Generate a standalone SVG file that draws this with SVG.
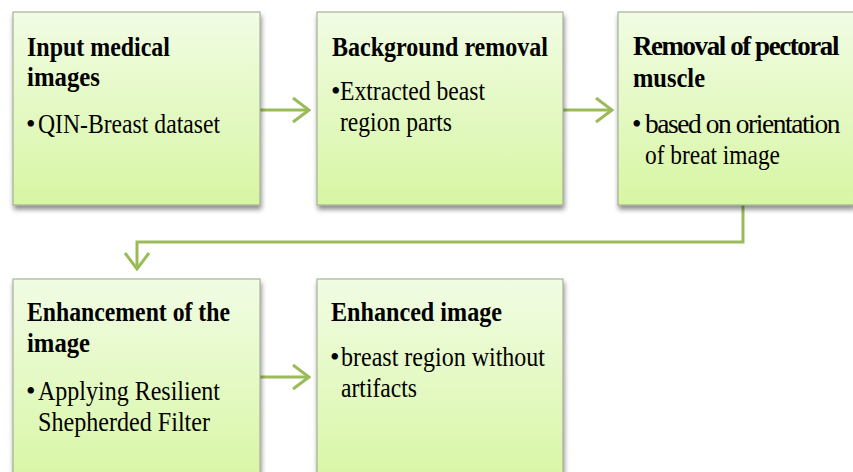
<svg xmlns="http://www.w3.org/2000/svg" width="853" height="472" viewBox="0 0 853 472">
<defs>
<linearGradient id="g" x1="0" y1="0" x2="0" y2="1">
<stop offset="0" stop-color="#f1fce4"/>
<stop offset="1" stop-color="#d7f6a3"/>
</linearGradient>
<filter id="sh" x="-10%" y="-10%" width="130%" height="130%">
<feDropShadow dx="1" dy="4" stdDeviation="2.5" flood-color="#000" flood-opacity="0.45"/>
</filter>
<marker id="ah" viewBox="0 0 20 28" refX="18" refY="14" markerWidth="20" markerHeight="28" markerUnits="userSpaceOnUse" orient="auto">
<path d="M2,2 L18,14 L2,26" fill="none" stroke="#9bbb59" stroke-width="3"/>
</marker>
</defs>
<style>
.box{fill:url(#g);stroke:#9aa48a;stroke-width:1;filter:url(#sh)}
.t{font-family:"Liberation Serif","Times New Roman",serif;font-size:27px;font-weight:bold;fill:#000}
.b{font-family:"Liberation Serif","Times New Roman",serif;font-size:27px;fill:#000}
.n{letter-spacing:-1.4px}
.c{fill:none;stroke:#9bbb59;stroke-width:3}
</style>
<rect width="853" height="472" fill="#fff"/>
<g id="connectors">
<path class="c" d="M260,110 H309" marker-end="url(#ah)"/>
<path class="c" d="M563,110 H612" marker-end="url(#ah)"/>
<path class="c" d="M743,205 V242 H137 V269" marker-end="url(#ah)"/>
<path class="c" d="M260,377 H309" marker-end="url(#ah)"/>
</g>
<g id="node1">
<rect class="box" x="13" y="12" width="247" height="193"/>
<text class="t" x="27" y="56" textLength="143" lengthAdjust="spacingAndGlyphs">Input medical</text>
<text class="t" x="27" y="86" textLength="73" lengthAdjust="spacingAndGlyphs">images</text>
<text class="b" x="26" y="133">•</text>
<text class="b" x="38" y="133" textLength="182" lengthAdjust="spacingAndGlyphs">QIN-Breast dataset</text>
</g>
<g id="node2">
<rect class="box" x="317" y="12" width="246" height="193"/>
<text class="t" x="332" y="56" textLength="216" lengthAdjust="spacingAndGlyphs">Background removal</text>
<text class="b" x="331" y="100">•</text>
<text class="b" x="340" y="100" textLength="145" lengthAdjust="spacingAndGlyphs">Extracted beast</text>
<text class="b" x="340" y="131" textLength="112" lengthAdjust="spacingAndGlyphs">region parts</text>
</g>
<g id="node3">
<rect class="box" x="618" y="12" width="236" height="193"/>
<text class="t n" x="633" y="55" textLength="205" lengthAdjust="spacingAndGlyphs">Removal of pectoral</text>
<text class="t" x="633" y="87" textLength="72" lengthAdjust="spacingAndGlyphs">muscle</text>
<text class="b" x="632" y="133">•</text>
<text class="b n" x="645" y="133" textLength="194" lengthAdjust="spacingAndGlyphs">based on orientation</text>
<text class="b" x="645" y="164" textLength="135" lengthAdjust="spacingAndGlyphs">of breat image</text>
</g>
<g id="node4">
<rect class="box" x="13" y="279" width="247" height="210"/>
<text class="t" x="27" y="321" textLength="203" lengthAdjust="spacingAndGlyphs">Enhancement of the</text>
<text class="t" x="27" y="352" textLength="63" lengthAdjust="spacingAndGlyphs">image</text>
<text class="b" x="26" y="400">•</text>
<text class="b" x="38" y="400" textLength="182" lengthAdjust="spacingAndGlyphs">Applying Resilient</text>
<text class="b" x="38" y="431" textLength="172" lengthAdjust="spacingAndGlyphs">Shepherded Filter</text>
</g>
<g id="node5">
<rect class="box" x="317" y="279" width="246" height="210"/>
<text class="t" x="331" y="321" textLength="171" lengthAdjust="spacingAndGlyphs">Enhanced image</text>
<text class="b" x="330" y="366">•</text>
<text class="b" x="341" y="366" textLength="204" lengthAdjust="spacingAndGlyphs">breast region without</text>
<text class="b" x="341" y="397" textLength="76" lengthAdjust="spacingAndGlyphs">artifacts</text>
</g>
</svg>
